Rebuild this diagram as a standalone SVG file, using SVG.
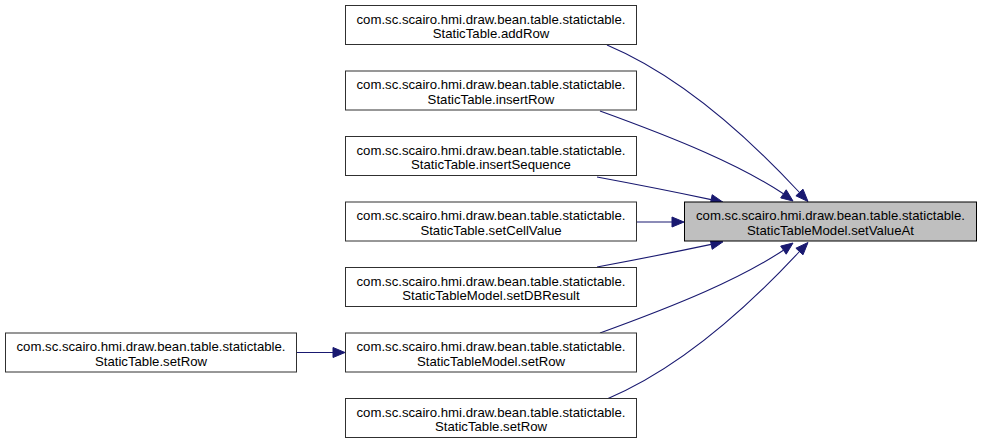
<svg xmlns="http://www.w3.org/2000/svg" width="983" height="444" viewBox="0 0 983 444">
<style>
.node rect{fill:#ffffff;stroke:#303030;stroke-width:1}
.node.target rect{fill:#bfbfbf;stroke:#000000}
.node text{font-family:"Liberation Sans",Arial,sans-serif;font-size:13.2px;text-anchor:middle;fill:#000}
.edges path{fill:none;stroke:#191970;stroke-width:1.1}
.edges polygon{fill:#191970;stroke:#191970;stroke-width:1}
</style>
<rect width="983" height="444" fill="#ffffff"/>
<g class="edges">
<path d="M607,45 C690,80 760,150 799.5,192.5"/>
<polygon points="808,201.5 795.9,195.8 803,189.2"/>
<path d="M600,111 C680,140 740,165 783.4,193.8"/>
<polygon points="793,201 780.7,197.9 786.2,189.8"/>
<path d="M597,177 C640,185 680,193 711.2,199.6"/>
<polygon points="723,202.2 710.2,204.5 712.2,194.7"/>
<path d="M637,222 L672,222"/>
<polygon points="684,222 672,227 672,217"/>
<path d="M597,267 C640,259 680,251 711.2,244.4"/>
<polygon points="723,241.8 712.2,249.3 710.2,239.5"/>
<path d="M600,333 C680,304 740,279 783.4,250.2"/>
<polygon points="793,243 786.2,254.2 780.7,246.1"/>
<path d="M607,399 C690,364 760,294 799.5,251.5"/>
<polygon points="808,242.5 803,254.8 795.9,248.2"/>
<path d="M297,352.5 L333,352.5"/>
<polygon points="345,352.5 333,357.5 333,347.5"/>
</g>
<g id="node-target" class="node target">
<rect x="684.5" y="202" width="292" height="39"/>
<text x="830.5" y="220">com.sc.scairo.hmi.draw.bean.table.statictable.</text>
<text x="830.5" y="234.5">StaticTableModel.setValueAt</text>
</g>
<g id="node-addRow" class="node">
<rect x="345.5" y="5.5" width="291" height="39"/>
<text x="491" y="23.5">com.sc.scairo.hmi.draw.bean.table.statictable.</text>
<text x="491" y="38">StaticTable.addRow</text>
</g>
<g id="node-insertRow" class="node">
<rect x="345.5" y="71" width="291" height="39"/>
<text x="491" y="89">com.sc.scairo.hmi.draw.bean.table.statictable.</text>
<text x="491" y="103.5">StaticTable.insertRow</text>
</g>
<g id="node-insertSequence" class="node">
<rect x="345.5" y="136.5" width="291" height="39"/>
<text x="491" y="154.5">com.sc.scairo.hmi.draw.bean.table.statictable.</text>
<text x="491" y="169">StaticTable.insertSequence</text>
</g>
<g id="node-setCellValue" class="node">
<rect x="345.5" y="202" width="291" height="39"/>
<text x="491" y="220">com.sc.scairo.hmi.draw.bean.table.statictable.</text>
<text x="491" y="234.5">StaticTable.setCellValue</text>
</g>
<g id="node-setDBResult" class="node">
<rect x="345.5" y="267.5" width="291" height="39"/>
<text x="491" y="285.5">com.sc.scairo.hmi.draw.bean.table.statictable.</text>
<text x="491" y="300">StaticTableModel.setDBResult</text>
</g>
<g id="node-model-setRow" class="node">
<rect x="345.5" y="333" width="291" height="39"/>
<text x="491" y="351">com.sc.scairo.hmi.draw.bean.table.statictable.</text>
<text x="491" y="365.5">StaticTableModel.setRow</text>
</g>
<g id="node-table-setRow" class="node">
<rect x="345.5" y="398.5" width="291" height="39"/>
<text x="491" y="416.5">com.sc.scairo.hmi.draw.bean.table.statictable.</text>
<text x="491" y="431">StaticTable.setRow</text>
</g>
<g id="node-left-setRow" class="node">
<rect x="5.5" y="333" width="291" height="39"/>
<text x="151" y="351">com.sc.scairo.hmi.draw.bean.table.statictable.</text>
<text x="151" y="365.5">StaticTable.setRow</text>
</g>
</svg>
